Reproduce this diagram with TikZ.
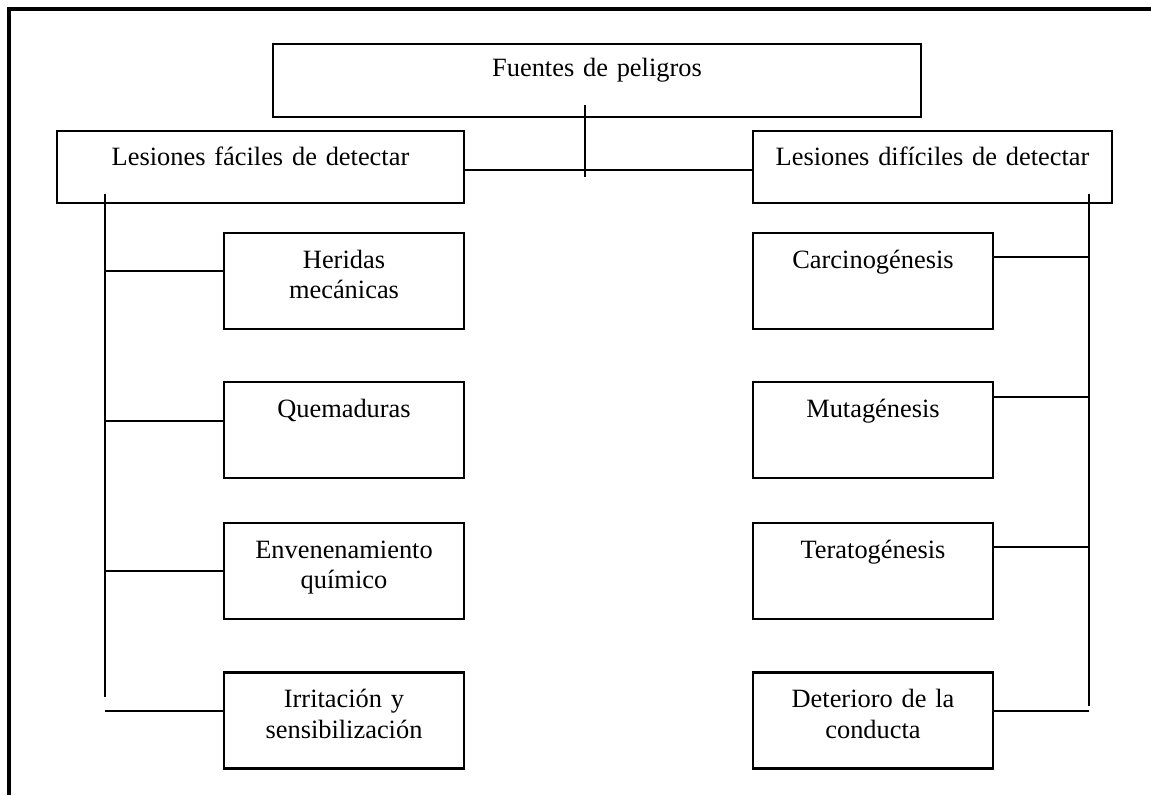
\documentclass[tikz,border=0pt]{standalone}
\usepackage{fontspec}
\setmainfont{Liberation Serif}

\tikzset{every picture/.style={line width=1.3pt}}
\tikzset{caja/.style={draw, line width=1.6pt, inner sep=0pt, align=center, text height=26.25pt, font=\fontsize{19.8}{22.9}\selectfont}}
\tikzset{padre/.style={caja, text depth=27.75pt}}
\tikzset{hijo/.style={caja, text width=180pt, text depth=45.75pt}}

\begin{document}
\begin{tikzpicture}[x=0.75pt,y=0.75pt,yscale=-1,xscale=1]
\useasboundingbox (0,0) rectangle (1151,795);
%Frame
\draw [line width=3pt] (9,795) -- (9,9) -- (1151,9) ;

% Text Node
\node [padre, text width=486pt, text height=24.75pt, text depth=30pt] (fuentes) at (597,80.5) {Fuentes de peligros};
% Text Node
\node [padre, text width=305.25pt] (faciles) at (260.5,167) {Lesiones fáciles de detectar};
% Text Node
\node [padre, text width=269.25pt] (dificiles) at (932.5,167) {Lesiones difíciles de detectar};

% Text Node
\node [hijo] (heridas) at (344,281) {Heridas\\mecánicas};
\node [hijo] (quemad) at (344,430) {Quemaduras};
\node [hijo] (envenen) at (344,571) {Envenenamiento\\químico};
\node [hijo] (irrit) at (344,720.5) {Irritación y\\sensibilización};
% Text Node
\node [hijo] (carcino) at (873,281) {Carcinogénesis};
\node [hijo] (mutag) at (873,430) {Mutagénesis};
\node [hijo] (terato) at (873,571) {Teratogénesis};
\node [hijo] (deter) at (873,720.5) {Deterioro de la\\conducta};

%Straight Lines
\coordinate (troncoA) at (585,105);
\coordinate (troncoB) at (585,177);
\draw (troncoA) -- (troncoB) ;
\draw (faciles.east |- 0,170) -- (dificiles.west |- 0,170) ;

%Straight Lines
\coordinate (izqA) at (105,194);
\coordinate (izqB) at (105,697);
\draw (izqA) -- (izqB) ;
\draw (izqB |- 0,271) -- (heridas.west |- 0,271) ;
\draw (izqB |- 0,421) -- (quemad.west |- 0,421) ;
\draw (izqB |- 0,571) -- (envenen.west |- 0,571) ;
\draw (izqB |- 0,711) -- (irrit.west |- 0,711) ;

%Straight Lines
\coordinate (derA) at (1089,194);
\coordinate (derB) at (1089,706);
\draw (derA) -- (derB) ;
\draw (derB |- 0,257) -- (carcino.east |- 0,257) ;
\draw (derB |- 0,397) -- (mutag.east |- 0,397) ;
\draw (derB |- 0,547) -- (terato.east |- 0,547) ;
\draw (derB |- 0,711) -- (deter.east |- 0,711) ;

\end{tikzpicture}
\end{document}
